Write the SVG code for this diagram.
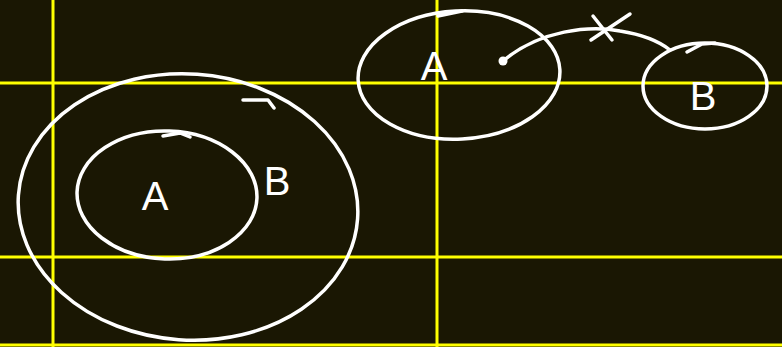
<svg xmlns="http://www.w3.org/2000/svg" width="782" height="347" viewBox="0 0 782 347">
<style>
.grid{stroke:#ffff00;stroke-width:3;fill:none}
.ink{stroke:#ffffff;stroke-width:3.5;fill:none;stroke-linecap:round;stroke-linejoin:round}
.lbl{fill:#ffffff;font-family:"Liberation Sans",Arial,sans-serif;font-size:40px;text-anchor:middle}
</style>
<rect width="782" height="347" fill="#1a1703"/>
<g id="grid">
<line class="grid" x1="53" y1="0" x2="53" y2="347"/>
<line class="grid" x1="437" y1="0" x2="437" y2="347"/>
<line class="grid" x1="0" y1="83" x2="782" y2="83"/>
<line class="grid" x1="0" y1="257" x2="782" y2="257"/>
<line class="grid" x1="0" y1="345" x2="782" y2="345"/>
</g>
<g id="setB">
<ellipse class="ink" cx="188" cy="207" rx="170" ry="133" transform="rotate(4 188 207)"/>
<path class="ink" d="M243 100 L268 100 L274 108"/>
<text class="lbl" x="277" y="195">B</text>
</g>
<g id="setA">
<ellipse class="ink" cx="167" cy="195" rx="90" ry="64" transform="rotate(2 167 195)"/>
<path class="ink" d="M163 136 L180 133 L190 137"/>
<text class="lbl" x="155" y="210">A</text>
</g>
<g id="nodeA">
<ellipse class="ink" cx="459" cy="75" rx="101" ry="64" transform="rotate(-3 459 75)"/>
<path class="ink" d="M438 16 L462 11"/>
<text class="lbl" x="434" y="80">A</text>
</g>
<g id="nodeB">
<ellipse class="ink" cx="705" cy="86" rx="62" ry="43"/>
<path class="ink" d="M687 52 L702 44 L715 43"/>
<text class="lbl" x="703" y="110">B</text>
</g>
<g id="connectors">
<circle cx="503" cy="61" r="4.5" fill="#ffffff"/>
<path class="ink" d="M503 61 C540 30 590 25 620 31 C645 35 660 42 670 50"/>
<path class="ink" d="M593 16 L612 40 M591 40 L630 14"/>
</g>
</svg>
